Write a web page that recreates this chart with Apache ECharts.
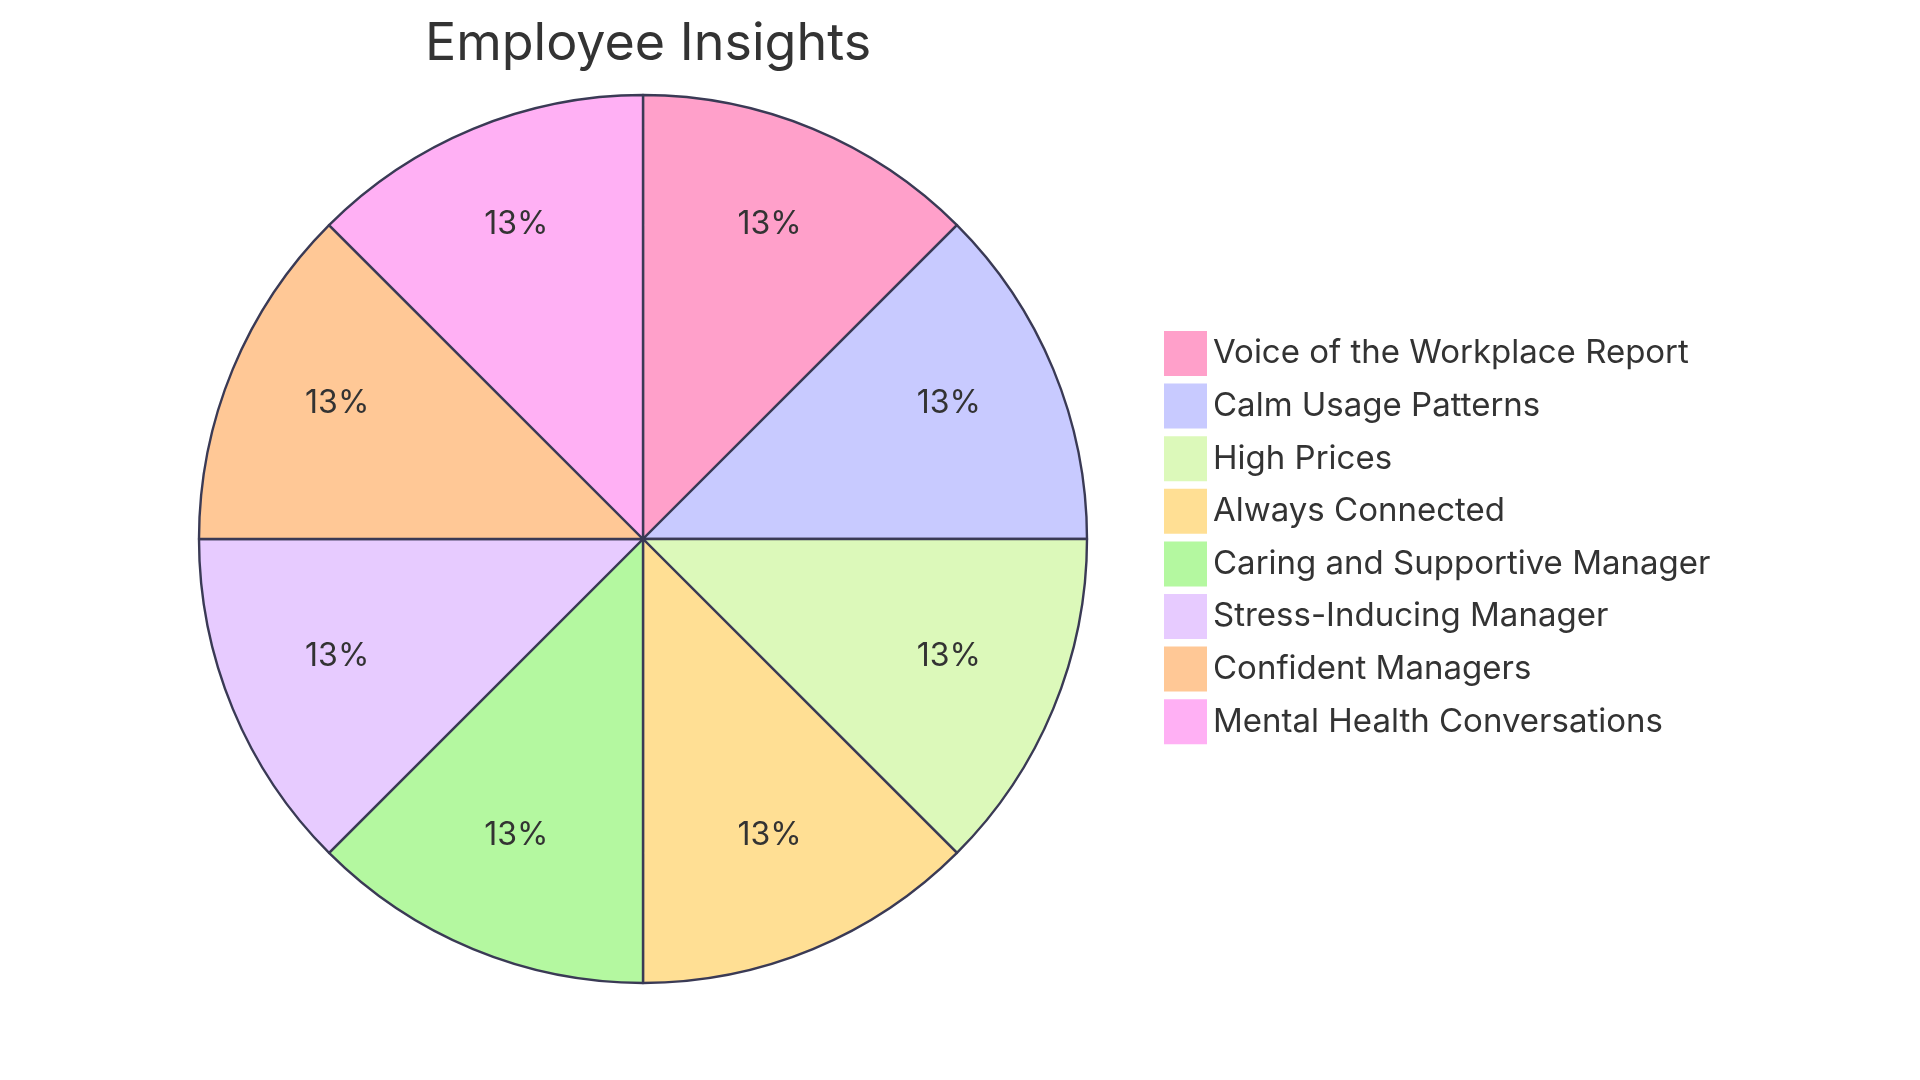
<!DOCTYPE html>
<html>
<head>
<meta charset="utf-8">
<script src="https://cdn.jsdelivr.net/npm/echarts@6/dist/echarts.min.js"></script>
<style>html,body{margin:0;padding:0;background:#fff}#c{width:1920px;height:1080px}</style>
</head>
<body>
<div id="c"></div>
<script>
const titleText = 'Employee Insights';
const categories = ['Voice of the Workplace Report','Calm Usage Patterns','High Prices','Always Connected','Caring and Supportive Manager','Stress-Inducing Manager','Confident Managers','Mental Health Conversations'];
const values = [1,1,1,1,1,1,1,1];
const colors = ['#FFA0CA','#C8CAFF','#DCF9BA','#FFDF94','#B4F8A0','#E7CBFF','#FFC896','#FFB0F4'];

const total = values.reduce((a,b)=>a+b,0);
const data = categories.map((n,i)=>({name:n,value:values[i],itemStyle:{color:colors[i]}}));
const font = 'Inter, "Noto Sans", sans-serif';
const chart = echarts.init(document.getElementById('c'));
chart.setOption({
  animation:false,
  title:{text:titleText,left:643,top:13,textAlign:'center',textStyle:{fontFamily:font,fontSize:52,fontWeight:'normal',color:'#333'}},
  legend:{orient:'vertical',left:1159,top:326,itemWidth:43,itemHeight:45,itemGap:7.6,icon:'rect',
    itemStyle:{borderWidth:0},
    textStyle:{fontFamily:font,fontSize:33,lineHeight:40,color:'#333',padding:[0,0,0,1]},data:categories},
  series:[
    {type:'pie',center:[643,539],radius:[0,444],startAngle:90,clockwise:true,data:data,
     itemStyle:{borderColor:'#3a3a55',borderWidth:2.4},label:{show:false},labelLine:{show:false},emphasis:{disabled:true}},
    {type:'pie',center:[643,539],radius:[212,444],startAngle:90,clockwise:true,silent:true,
     data:categories.map((n,i)=>({name:n,value:values[i]})),
     itemStyle:{color:'rgba(0,0,0,0)',borderWidth:0},
     label:{show:true,position:'inside',offset:[0,-9],fontFamily:font,fontSize:32,color:'#333',
       formatter:p=>Math.round(p.value/total*100)+'%'},labelLine:{show:false},emphasis:{disabled:true}}
  ]
});
</script>
</body>
</html>
